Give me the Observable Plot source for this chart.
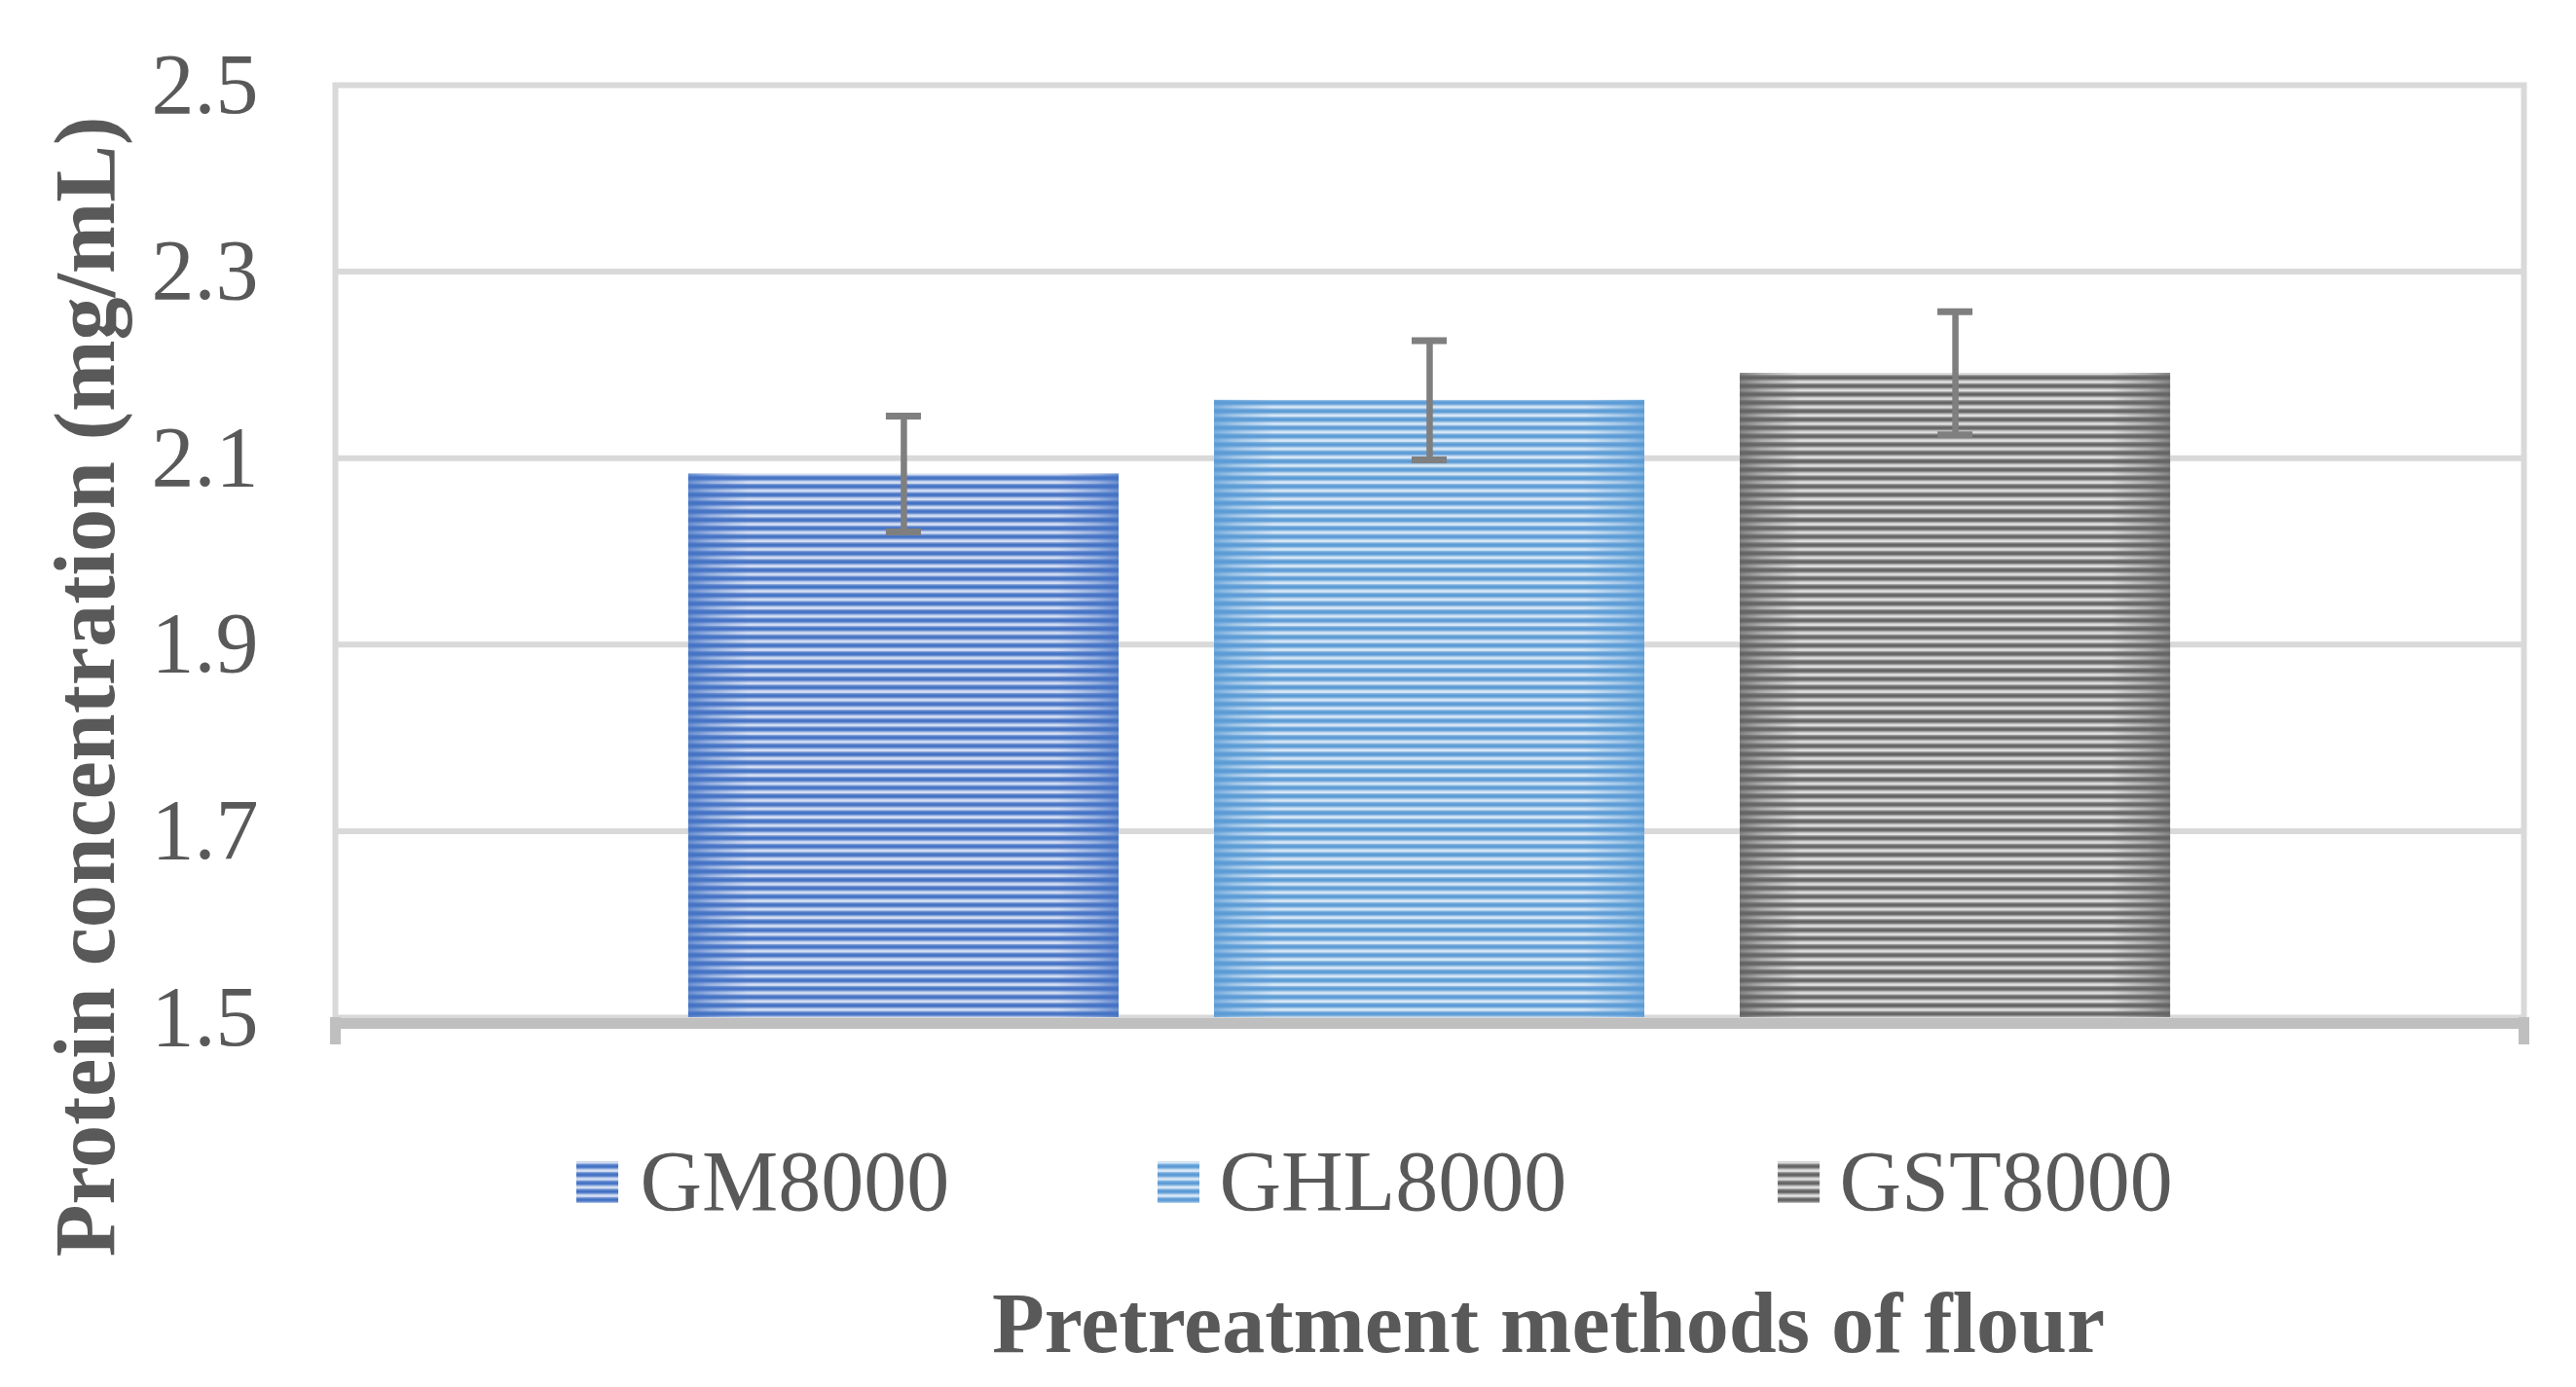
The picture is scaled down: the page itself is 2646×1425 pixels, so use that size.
<!DOCTYPE html>
<html><head><meta charset="utf-8">
<script src="https://cdn.jsdelivr.net/npm/d3@7"></script>
<script src="https://cdn.jsdelivr.net/npm/@observablehq/plot@0.6"></script>
<style>html,body{margin:0;padding:0;background:#fff;overflow:hidden}#chart svg{display:block}</style>
</head><body><div id="chart"></div>
<script>
// ---- data ----
const series = ["GM8000", "GHL8000", "GST8000"];
const means = [2.083, 2.162, 2.191];
const errors = [0.062, 0.064, 0.066];
const yTicks = [1.5, 1.7, 1.9, 2.1, 2.3, 2.5];
const yLabel = "Protein concentration (mg/mL)";
const xLabel = "Pretreatment methods of flour";

// ---- styles ----
const darkColors = ["#4472c4", "#5b9bd5", "#646464"];
const midColors = ["#8aa7dc", "#96bfe5", "#a2a2a2"];
const lightColors = ["#d4def3", "#d7e7f6", "#dedede"];
const textColor = "#595959";
const serif = "'Liberation Serif','Times New Roman',Times,serif";

const W = 2646, H = 1425;
const mL = 344, mR = 54, mT = 87, mB = 380;
const legendSwatchX = [613, 1210, 1847];
const legendTextX = [657, 1252, 1889];
const legendY = 1214;

const data = series.map((s, i) => ({
  series: s, i, mean: means[i], lo: means[i] - errors[i], hi: means[i] + errors[i]
}));

const defsMark = () => {
  const g = d3.create("svg:g");
  const defs = g.append("defs");
  series.forEach((s, i) => {
    const p = defs.append("pattern").attr("id", "pat" + i)
      .attr("patternUnits", "userSpaceOnUse").attr("width", 20).attr("height", 8.6);
    p.append("rect").attr("width", 20).attr("height", 8.6).attr("fill", darkColors[i]);
    p.append("rect").attr("y", 2.6).attr("width", 20).attr("height", 1.4).attr("fill", midColors[i]);
    p.append("rect").attr("y", 4.0).attr("width", 20).attr("height", 2.8).attr("fill", lightColors[i]);
    p.append("rect").attr("y", 6.8).attr("width", 20).attr("height", 1.2).attr("fill", midColors[i]);
    const lg = defs.append("linearGradient").attr("id", "edge" + i)
      .attr("x1", 0).attr("x2", 1).attr("y1", 0).attr("y2", 0);
    [[0, 0.75], [0.05, 0.4], [0.14, 0], [0.86, 0], [0.95, 0.4], [1, 0.75]].forEach(([o, a]) =>
      lg.append("stop").attr("offset", o).attr("stop-color", darkColors[i]).attr("stop-opacity", a));
  });
  return g.node();
};

const endTicks = (index, scales, values, dims) => {
  const g = d3.create("svg:g");
  const y0 = scales.y(1.5);
  for (const x of [dims.marginLeft + 0.5, dims.width - dims.marginRight + 0.5]) {
    g.append("line").attr("x1", x).attr("x2", x).attr("y1", y0).attr("y2", y0 + 28)
      .attr("stroke", "#bfbfbf").attr("stroke-width", 11);
  }
  return g.node();
};

const legendMarks = series.flatMap((s, i) => [
  Plot.dot([s], {
    frameAnchor: "bottom-left", dx: legendSwatchX[i] - mL, dy: legendY - (H - mB),
    symbol: "square", r: 24.3, fill: () => `url(#pat${i})`
  }),
  Plot.text([s], {
    frameAnchor: "bottom-left", dx: legendTextX[i] - mL, dy: legendY - (H - mB),
    textAnchor: "start", lineAnchor: "middle", fontSize: 88, fill: textColor
  })
]);

const chart = Plot.plot({
  width: W, height: H,
  marginLeft: mL, marginRight: mR, marginTop: mT, marginBottom: mB,
  style: {fontFamily: serif, background: "#fff", overflow: "visible"},
  x: {domain: series, paddingInner: 0.1815, paddingOuter: 0.672, round: false, axis: null},
  y: {domain: [1.5, 2.5], axis: null},
  color: {type: "identity"},
  marks: [
    defsMark,
    Plot.frame({stroke: "#d9d9d9", strokeWidth: 6}),
    Plot.gridY(yTicks.filter(d => d > 1.5 && d < 2.5), {stroke: "#d9d9d9", strokeOpacity: 1, strokeWidth: 6}),
    Plot.barY(data, {x: "series", y1: 1.5, y2: "mean", fill: d => `url(#pat${d.i})`}),
    Plot.barY(data, {x: "series", y1: 1.5, y2: "mean", fill: d => `url(#edge${d.i})`}),
    Plot.ruleY([1.5], {stroke: "#bfbfbf", strokeWidth: 11, dy: 6}),
    endTicks,
    Plot.ruleX(data, {x: "series", y1: "lo", y2: "hi", stroke: "#7f7f7f", strokeWidth: 6.5}),
    Plot.tickY(data, {x: "series", y: "hi", stroke: "#7f7f7f", strokeWidth: 7, insetLeft: 203, insetRight: 203}),
    Plot.tickY(data, {x: "series", y: "lo", stroke: "#7f7f7f", strokeWidth: 7, insetLeft: 203, insetRight: 203}),
    Plot.axisY(yTicks, {tickSize: 0, tickPadding: 79, fontSize: 88, color: textColor, tickFormat: d3.format(".1f"), label: null}),
    Plot.text([yLabel], {frameAnchor: "left", dx: 88 - mL, dy: 705 - (mT + (H - mB)) / 2, rotate: -90,
      textAnchor: "middle", lineAnchor: "middle", fontSize: 88, fontWeight: "bold", fill: textColor}),
    Plot.text([xLabel], {frameAnchor: "bottom", dx: 1590 - (mL + W - mR) / 2, dy: 1360 - (H - mB),
      textAnchor: "middle", lineAnchor: "middle", fontSize: 88, fontWeight: "bold", fill: textColor}),
    ...legendMarks
  ]
});
document.getElementById("chart").appendChild(chart);
</script>
</body></html>
